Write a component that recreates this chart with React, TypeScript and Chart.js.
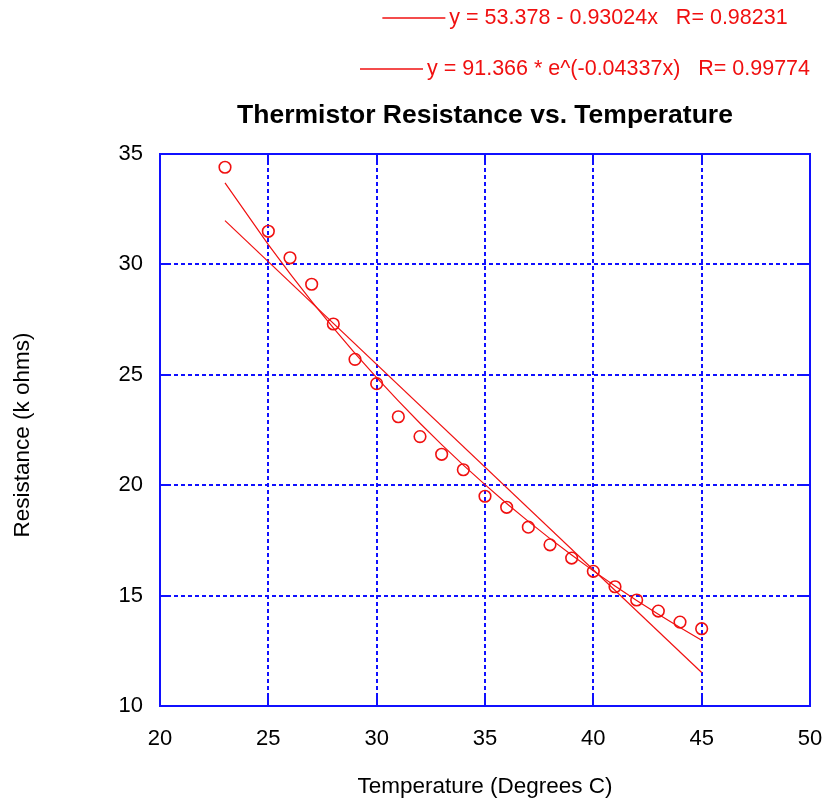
import React, { useEffect, useRef } from "react";
import { Chart, registerables } from "chart.js";

Chart.register(...registerables);

// ---- data ----
const temperatures = [23, 25, 26, 27, 28, 29, 30, 31, 32, 33, 34, 35, 36, 37, 38, 39, 40, 41, 42, 43, 44, 45];
const resistances = [34.4, 31.5, 30.3, 29.1, 27.3, 25.7, 24.6, 23.1, 22.2, 21.4, 20.7, 19.5, 19.0, 18.1, 17.3, 16.7, 16.1, 15.4, 14.8, 14.3, 13.8, 13.5];

// fit coefficients shown in the reference legend
const linearFit = { intercept: 53.378, slope: -0.93024, r: 0.98231 };
const expFit = { a: 91.366, k: -0.04337, r: 0.99774 };
const fitRange = [23, 45];

const xTicks = [20, 25, 30, 35, 40, 45, 50];
const yTicks = [10, 15, 20, 25, 30, 35];

const chartTitle = "Thermistor Resistance vs. Temperature";
const xAxisTitle = "Temperature (Degrees C)";
const yAxisTitle = "Resistance (k ohms)";
const legendLabels = [
  "y = 53.378 - 0.93024x   R= 0.98231",
  "y = 91.366 * e^(-0.04337x)   R= 0.99774",
];

// ---- styles ----
const BLUE = "rgb(16,16,255)";
const RED = "rgb(240,16,16)";
const FONT = "'Liberation Sans', Arial, sans-serif";

const linearPoints = fitRange.map((x) => ({ x, y: linearFit.intercept + linearFit.slope * x }));
const expPoints = temperatures
  .filter((x) => x >= fitRange[0] && x <= fitRange[1])
  .map((x) => ({ x, y: expFit.a * Math.exp(expFit.k * x) }));

const decorPlugin = {
  id: "decor",
  afterDraw(chart: any) {
    const { ctx, chartArea: a } = chart;
    const xs = chart.scales.x;
    const ys = chart.scales.y;
    const TL = 10;
    ctx.save();
    // frame
    ctx.strokeStyle = BLUE;
    ctx.lineWidth = 2;
    ctx.setLineDash([]);
    ctx.strokeRect(a.left, a.top, a.right - a.left, a.bottom - a.top);
    // inner tick marks on all four sides
    ctx.beginPath();
    xs.ticks.forEach((t: any) => {
      const px = Math.round(xs.getPixelForValue(t.value));
      ctx.moveTo(px, a.bottom);
      ctx.lineTo(px, a.bottom - TL);
      ctx.moveTo(px, a.top);
      ctx.lineTo(px, a.top + TL);
    });
    ys.ticks.forEach((t: any) => {
      const py = Math.round(ys.getPixelForValue(t.value));
      ctx.moveTo(a.left, py);
      ctx.lineTo(a.left + TL, py);
      ctx.moveTo(a.right, py);
      ctx.lineTo(a.right - TL, py);
    });
    ctx.stroke();

    const cx = (a.left + a.right) / 2;
    const cy = (a.top + a.bottom) / 2;

    // title
    ctx.fillStyle = "#000";
    ctx.textAlign = "center";
    ctx.textBaseline = "middle";
    ctx.font = `bold 26.5px ${FONT}`;
    ctx.fillText(chartTitle, cx, 116);

    // axis titles
    ctx.font = `22.5px ${FONT}`;
    ctx.fillText(xAxisTitle, cx, 787);
    ctx.save();
    ctx.translate(23, cy + 5);
    ctx.rotate(-Math.PI / 2);
    ctx.fillText(yAxisTitle, 0, 0);
    ctx.restore();

    // legend (each entry centered on the same x)
    const legendCenter = 585;
    const legendY = [18, 69];
    const sampleLen = 63;
    const gap = 4;
    ctx.font = `21.5px ${FONT}`;
    ctx.textAlign = "left";
    legendLabels.forEach((label, i) => {
      const tw = ctx.measureText(label).width;
      const total = sampleLen + gap + tw;
      const x0 = legendCenter - total / 2;
      const y = legendY[i];
      ctx.strokeStyle = RED;
      ctx.lineWidth = 1.5;
      ctx.beginPath();
      ctx.moveTo(x0, y);
      ctx.lineTo(x0 + sampleLen, y);
      ctx.stroke();
      ctx.fillStyle = RED;
      ctx.fillText(label, x0 + sampleLen + gap, y);
    });
    ctx.restore();
  },
};

export default function App() {
  const canvasRef = useRef<HTMLCanvasElement | null>(null);

  useEffect(() => {
    if (!canvasRef.current) return;
    const chart = new Chart(canvasRef.current, {
      type: "scatter",
      data: {
        datasets: [
          {
            label: "data",
            data: temperatures.map((x, i) => ({ x, y: resistances[i] })),
            pointStyle: "circle",
            pointRadius: 5.8,
            pointBorderWidth: 1.6,
            pointBorderColor: RED,
            pointBackgroundColor: "rgba(0,0,0,0)",
            showLine: false,
          } as any,
          {
            label: legendLabels[0],
            data: linearPoints,
            showLine: true,
            borderColor: RED,
            borderWidth: 1.2,
            pointRadius: 0,
          } as any,
          {
            label: legendLabels[1],
            data: expPoints,
            showLine: true,
            borderColor: RED,
            borderWidth: 1.2,
            pointRadius: 0,
            tension: 0,
          } as any,
        ],
      },
      options: {
        responsive: false,
        animation: false,
        devicePixelRatio: 1,
        layout: { padding: { top: 154, right: 15, left: 0, bottom: 0 } },
        plugins: {
          legend: { display: false },
          title: { display: false },
          tooltip: { enabled: false },
        },
        scales: {
          x: {
            type: "linear",
            min: xTicks[0],
            max: xTicks[xTicks.length - 1],
            afterBuildTicks: (scale: any) => {
              scale.ticks = xTicks.map((v) => ({ value: v }));
            },
            afterFit: (scale: any) => {
              scale.height = 93;
              scale.paddingLeft = 0;
              scale.paddingRight = 0;
            },
            grid: { color: BLUE, lineWidth: 2, drawTicks: false },
            border: { display: false, dash: [4, 3] },
            ticks: {
              color: "#000",
              padding: 20,
              font: { family: FONT, size: 22 },
              maxRotation: 0,
            },
          },
          y: {
            type: "linear",
            min: yTicks[0],
            max: yTicks[yTicks.length - 1],
            afterBuildTicks: (scale: any) => {
              scale.ticks = yTicks.map((v) => ({ value: v }));
            },
            afterFit: (scale: any) => {
              scale.width = 160;
              scale.paddingTop = 0;
              scale.paddingBottom = 0;
            },
            grid: { color: BLUE, lineWidth: 2, drawTicks: false },
            border: { display: false, dash: [4, 3] },
            ticks: {
              color: "#000",
              padding: 17,
              font: { family: FONT, size: 22 },
            },
          },
        },
      } as any,
      plugins: [decorPlugin],
    });
    return () => chart.destroy();
  }, []);

  return (
    <div style={{ position: "absolute", left: 0, top: 0, width: 825, height: 799, background: "#fff" }}>
      <canvas ref={canvasRef} width={825} height={799} style={{ width: 825, height: 799, display: "block" }} />
    </div>
  );
}
